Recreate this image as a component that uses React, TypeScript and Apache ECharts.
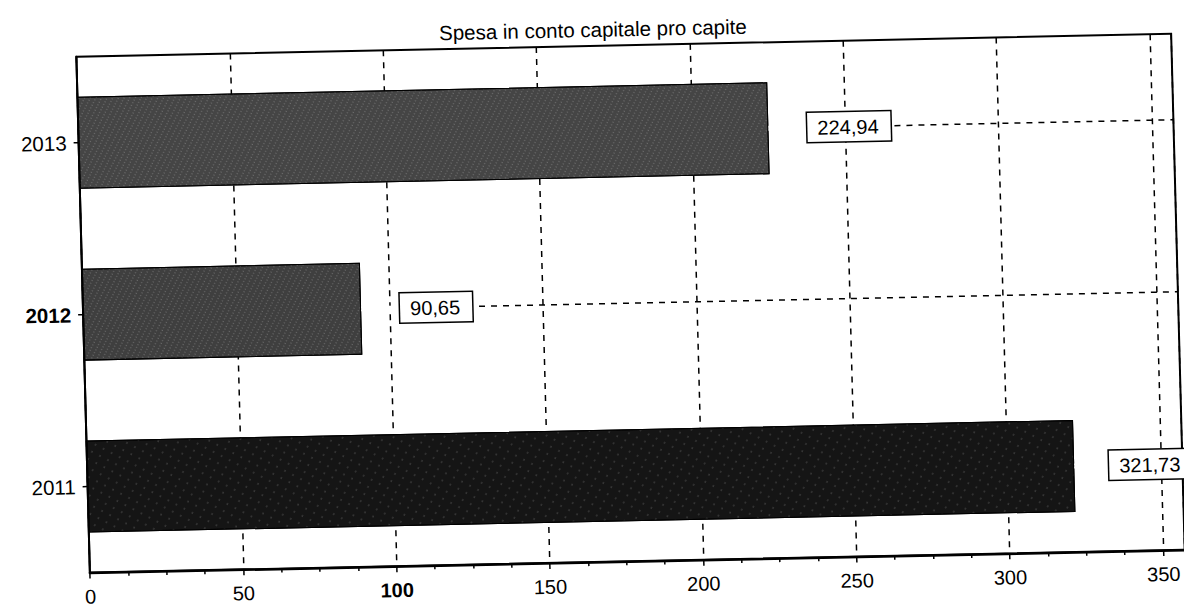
import React, { useEffect, useRef } from "react";
import * as echarts from "echarts";

// Spesa in conto capitale pro capite, per anno
const years = ["2011", "2012", "2013"];
const values = [321.73, 90.65, 224.94];
const barColors = ["#151515", "#3f3f3f", "#454545"];

const axisMin = 0;
const axisMax = 357;
const tickStep = 50;

const FONT = "'Liberation Sans', Arial, sans-serif";

const fmt = (v: number) => v.toFixed(2).replace(".", ",");

export default function App() {
  const ref = useRef<HTMLDivElement>(null);

  useEffect(() => {
    if (!ref.current) return;
    const chart = echarts.init(ref.current, undefined, { renderer: "svg" });

    const dash = { color: "#000", type: [6, 6] as number[], width: 1.5 };

    // one dashed guide per category, running under the bars
    const guides = years.map((y) => ({
      type: "line" as const,
      data: [
        [axisMin, y],
        [axisMax, y],
      ],
      z: 1,
      silent: true,
      symbol: "none",
      lineStyle: dash,
    }));

    chart.setOption({
      animation: false,
      backgroundColor: "#fff",
      textStyle: { fontFamily: FONT, color: "#000" },
      title: {
        text: "Spesa in conto capitale pro capite",
        left: 595,
        top: 14,
        textAlign: "center",
        textStyle: { fontFamily: FONT, fontSize: 20.5, fontWeight: "normal", color: "#000" },
      },
      grid: {
        left: 83,
        right: 6,
        top: 46,
        bottom: 45,
        show: true,
        borderColor: "#000",
        borderWidth: 2,
        backgroundColor: "transparent",
      },
      xAxis: {
        type: "value",
        min: axisMin,
        max: axisMax,
        interval: tickStep,
        axisLine: { show: true, lineStyle: { color: "#000", width: 2.5 } },
        axisTick: { show: true, length: 6, lineStyle: { color: "#000", width: 1.5 } },
        minorTick: { show: true, splitNumber: 4, length: 4, lineStyle: { color: "#000", width: 1.5 } },
        splitLine: { show: true, lineStyle: dash },
        axisLabel: {
          showMaxLabel: false,
          margin: 14,
          fontSize: 20,
          color: "#000",
          fontFamily: FONT,
          formatter: (v: number) => (v === 100 ? `{b|${v}}` : `${v}`),
          rich: { b: { fontWeight: "bold", fontSize: 20, fontFamily: FONT, color: "#000" } },
        },
      },
      yAxis: {
        type: "category",
        data: years,
        axisLine: { show: true, lineStyle: { color: "#000", width: 2 } },
        axisTick: { show: true, alignWithLabel: true, length: 5, lineStyle: { color: "#000", width: 1.5 } },
        splitLine: { show: false },
        axisLabel: {
          margin: 12,
          fontSize: 20.5,
          color: "#000",
          fontFamily: FONT,
          formatter: (v: string) => (v === "2012" ? `{b|${v}}` : v),
          rich: { b: { fontWeight: "bold", fontSize: 20.5, fontFamily: FONT, color: "#000" } },
        },
      },
      series: [
        ...guides,
        {
          type: "bar",
          z: 2,
          barWidth: 92,
          data: values.map((v, i) => ({
            value: v,
            itemStyle: {
              color: barColors[i],
              borderColor: "#000",
              borderWidth: 1,
              decal: {
                symbol: "rect",
                symbolSize: 0.6,
                color: i === 0 ? "rgba(255,255,255,0.35)" : "rgba(255,255,255,0.45)",
                dashArrayX: i === 0 ? [2, 7] : [2, 3],
                dashArrayY: i === 0 ? [2, 6] : [1, 2],
                rotation: 0.5,
              },
            },
          })),
          label: {
            show: true,
            position: "right",
            distance: 0,
            // a thin white strip hides the guide between bar end and value box
            formatter: (p: any) =>
              `{${p.dataIndex === 0 ? "gapS" : "gap"}|\u00a0}{box|${fmt(p.value)}}`,
            rich: {
              gap: {
                width: 39,
                height: 5,
                lineHeight: 5,
                fontSize: 2,
                backgroundColor: "#fff",
                verticalAlign: "middle",
              },
              gapS: {
                width: 35,
                height: 5,
                lineHeight: 5,
                fontSize: 2,
                backgroundColor: "#fff",
                verticalAlign: "middle",
              },
              box: {
                fontFamily: FONT,
                fontSize: 20,
                color: "#000",
                backgroundColor: "#fff",
                borderColor: "#000",
                borderWidth: 1.5,
                padding: [5, 12, 4, 10],
                verticalAlign: "middle",
              },
            },
          },
        },
      ],
    });

    return () => chart.dispose();
  }, []);

  return (
    <div
      ref={ref}
      style={{
        position: "absolute",
        left: 0,
        top: 0,
        width: 1184,
        height: 607,
        transform: "rotate(-1.2deg) skewX(0.3deg)",
        transformOrigin: "50% 50%",
      }}
    />
  );
}
